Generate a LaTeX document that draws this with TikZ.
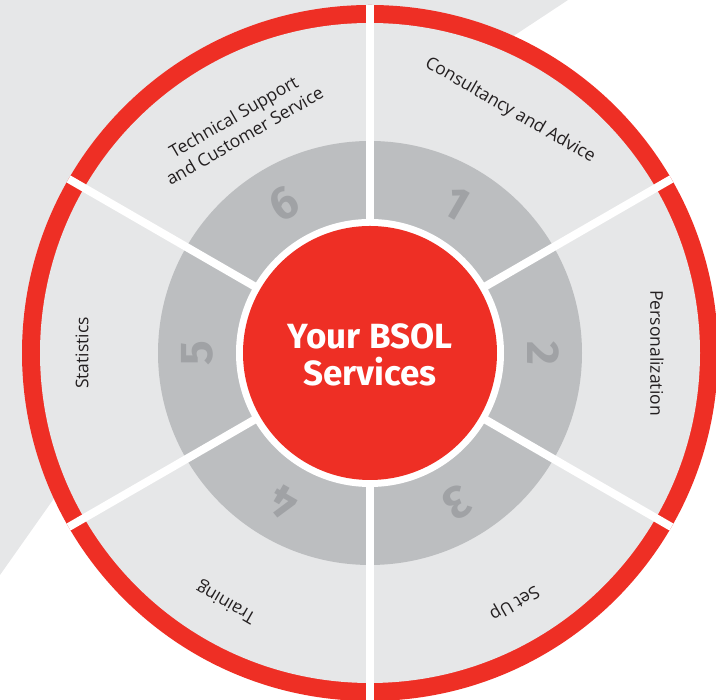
\documentclass[tikz,border=0pt]{standalone}
\usepackage{fontspec}
\setmainfont{Open Sans}
\newfontfamily\titlefont{Fira Sans}
\usepackage{xcolor}
\usepackage{tikz}
\usetikzlibrary{shapes,positioning,backgrounds}

\definecolor{bsolred}{HTML}{EE2F25}
\definecolor{lightgrey}{HTML}{E6E7E8}
\definecolor{ringgrey}{HTML}{BCBEC0}
\definecolor{numgrey}{HTML}{A0A2A5}
\definecolor{textgrey}{HTML}{231F20}

\begin{document}
\begin{tikzpicture}[x=1pt, y=1pt,
    servicelabel/.style={text=textgrey, font=\fontsize{17.5}{22}\selectfont, align=center, inner sep=0pt},
    number/.style={text=numgrey, font=\titlefont\bfseries\fontsize{46}{46}\selectfont, inner sep=0pt},
    divider/.style={white, line width=8pt}]
    \useasboundingbox (0,0) rectangle (716,700);

    % Background band
    \fill[lightgrey] (0,700) -- (568,700) -- (515,665) -- (55,203) -- (0,125) -- cycle;

    \begin{scope}[shift={(370,347)}]
    % Rings
    \fill[bsolred] (0,0) circle (348);
    \fill[lightgrey] (0,0) circle (330);
    \fill[ringgrey] (0,0) circle (212);
    \foreach \a in {30,90,...,330}
        \draw[divider] (0,0) -- (\a:348);
    \fill[white] (0,0) circle (134);
    \fill[bsolred] (0,0) circle (127);

    % Nodes
    \node[text=white, font=\titlefont\bfseries\fontsize{35}{37}\selectfont, align=center] (title) at (0,-2) {Your BSOL\\Services};

    \node[number, rotate=-30] (n1) at (60:173) {1};
    \node[number, rotate=-90] (n2) at (0:173) {2};
    \node[number, rotate=-150] (n3) at (-60:173) {3};
    \node[number, rotate=150] (n4) at (-120:173) {4};
    \node[number, rotate=90] (n5) at (180:173) {5};
    \node[number, rotate=30] (n6) at (120:173) {6};

    \node[servicelabel, rotate=-30] (consult) at (60:280) {Consultancy and Advice};
    \node[servicelabel, rotate=-90] (personal) at (0:287) {Personalization};
    \node[servicelabel, rotate=-150] (setup) at (-60:288) {Set Up};
    \node[servicelabel, rotate=150] (training) at (-120:287) {Training};
    \node[servicelabel, rotate=90] (stats) at (180:288) {Statistics};
    \node[servicelabel, rotate=30] (support) at (120:262) {Technical Support\\and Customer Service};
    \end{scope}
\end{tikzpicture}
\end{document}
